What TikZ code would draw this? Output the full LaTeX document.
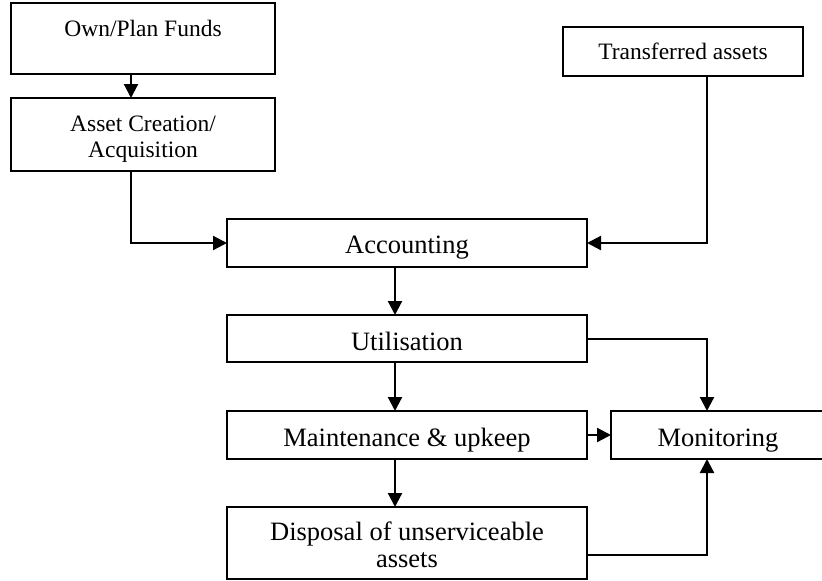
\documentclass[tikz,border=0pt]{standalone}
\usepackage{fontspec}
\setmainfont{Liberation Serif}
\usetikzlibrary{arrows.meta,calc}
\begin{document}
\begin{tikzpicture}[x=1pt,y=-1pt,
  box/.style={draw=black,line width=2.2pt,rectangle,inner sep=0pt,outer sep=0pt,anchor=north west},
  big/.style={font=\fontsize{26.5}{27}\selectfont,anchor=base,inner sep=0pt},
  small/.style={font=\fontsize{23.5}{26}\selectfont,anchor=base,inner sep=0pt},
  arr/.style={line width=2.2pt,-{Triangle[length=14pt,width=14pt]}},
  ln/.style={line width=2.2pt}]
\useasboundingbox (0,0) rectangle (822,581);
\clip (0,0) rectangle (822,581);
% boxes
\node[box,minimum width=264pt,minimum height=71pt] (own) at (11,3) {};
\node[box,minimum width=264pt,minimum height=73pt] (asset) at (11,98) {};
\node[box,minimum width=240pt,minimum height=49pt] (trans) at (563,27) {};
\node[box,minimum width=360pt,minimum height=48pt] (acc) at (227,219) {};
\node[box,minimum width=360pt,minimum height=47pt] (util) at (227,315) {};
\node[box,minimum width=360pt,minimum height=48pt] (maint) at (227,411) {};
\node[box,minimum width=222pt,minimum height=48pt] (mon) at (611,411) {};
\node[box,minimum width=360pt,minimum height=72pt] (disp) at (227,507) {};
% texts
\node[small] (t1) at (143,36) {Own/Plan Funds};
\node[small] (t2) at (143,131) {Asset Creation/};
\node[small] (t3) at (143,157) {Acquisition};
\node[small] (t4) at (683,59) {Transferred assets};
\node[big] (t5) at (407,253) {Accounting};
\node[big] (t6) at (407,350) {Utilisation};
\node[big] (t7) at (407,446) {Maintenance \& upkeep};
\node[big] (t8) at (718,446) {Monitoring};
\node[big] (t9) at (407,540) {Disposal of unserviceable};
\node[big] (t10) at (407,567) {assets};
% reference coordinates
\coordinate (xa) at (131,0);
\coordinate (xm) at (395,0);
\coordinate (xr) at (707,0);
\coordinate (ya) at (0,243);
\coordinate (yu) at (0,339);
\coordinate (ymt) at (0,435);
\coordinate (yd) at (0,555);
% connectors
\draw[arr] (own.south -| xa) -- (asset.north -| xa);
\draw[arr] (asset.south -| xa) |- (acc.west |- ya);
\draw[arr] (trans.south -| xr) |- (acc.east |- ya);
\draw[arr] (acc.south -| xm) -- (util.north -| xm);
\draw[arr] (util.south -| xm) -- (maint.north -| xm);
\draw[arr] (maint.south -| xm) -- (disp.north -| xm);
\draw[arr] (util.east |- yu) -| (mon.north -| xr);
\draw[arr] (maint.east |- ymt) -- (mon.west |- ymt);
\draw[arr] (disp.east |- yd) -| (mon.south -| xr);
\end{tikzpicture}
\end{document}
